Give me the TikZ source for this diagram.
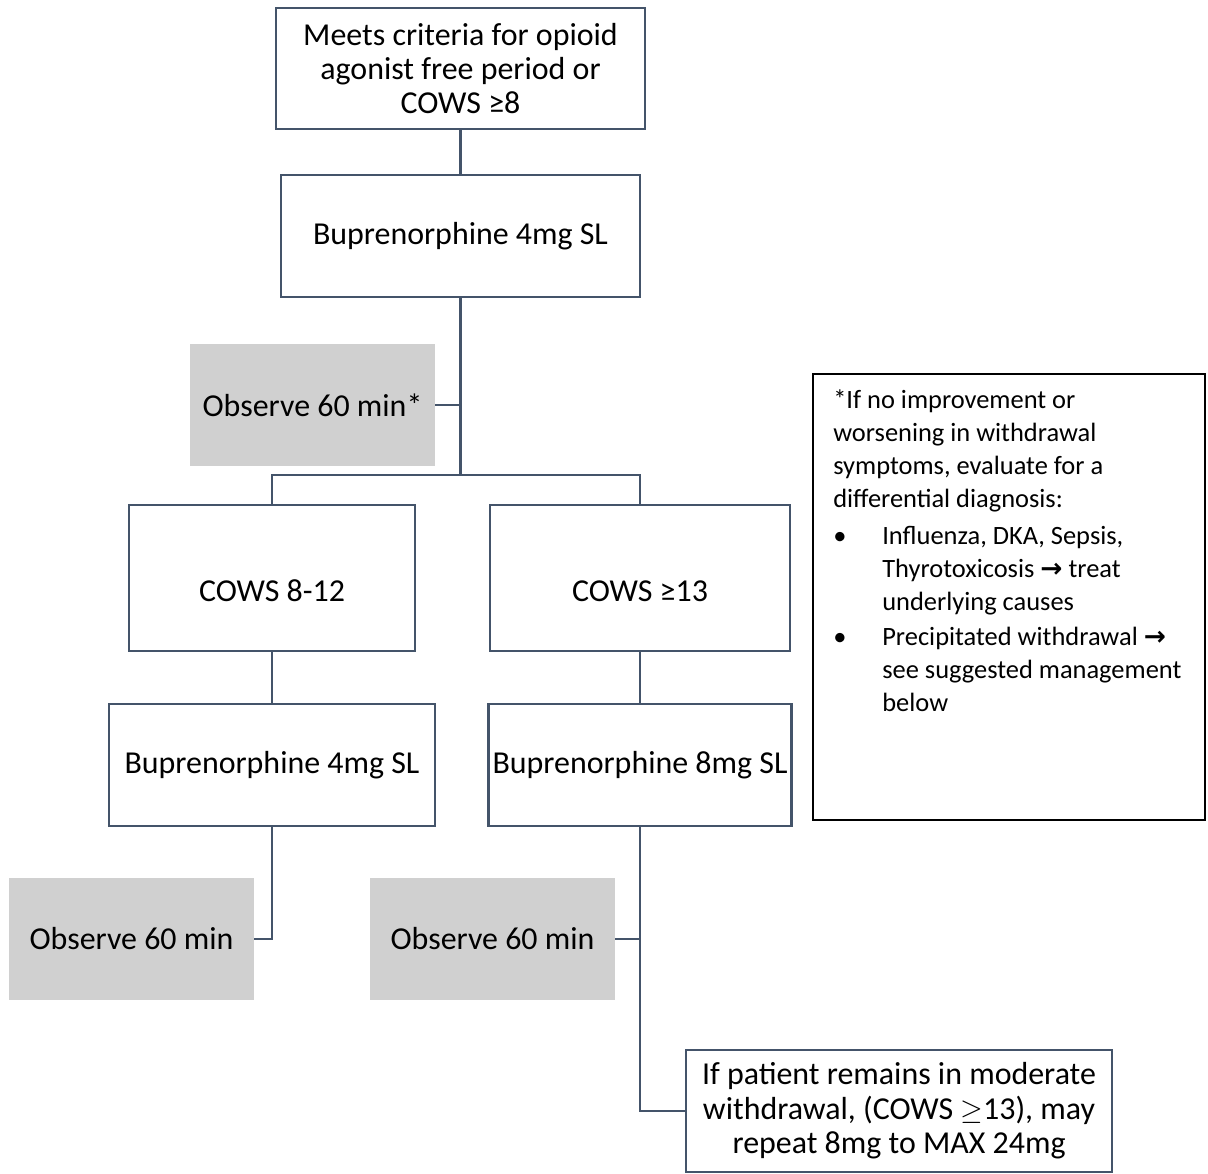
\documentclass[tikz,border=0pt]{standalone}
\usepackage{fontspec}
\setmainfont{Carlito}
\newfontfamily\symfont{DejaVu Sans}
\usepackage{xcolor}
\usetikzlibrary{positioning,calc}
\definecolor{linkcol}{HTML}{44546A}
\definecolor{obsgray}{HTML}{D0D0D0}
\newcommand{\geqsym}{≥}
\newcommand{\rarr}{{\symfont\bfseries →}}

\begin{document}
\begin{tikzpicture}[x=0.025cm,y=-0.025cm,
  box/.style={draw=linkcol,line width=1.6pt,align=center,inner sep=0pt,minimum height=3.05cm,font=\fontsize{22.7}{24.5}\selectfont},
  cowsbox/.style={box,minimum height=3.65cm,text height=1.15cm,text depth=0pt},
  obs/.style={fill=obsgray,minimum width=6.125cm,minimum height=3.05cm,inner sep=0pt,font=\fontsize{22.7}{24.5}\selectfont},
  link/.style={draw=linkcol,line width=1.6pt}]
\useasboundingbox (0,0) rectangle (1208,1174);
\node[box,minimum width=9.225cm,minimum height=3.025cm] (crit) at (460.5,68.5) {Meets criteria for opioid\\agonist free period or\\COWS \geqsym8};
\node[box,minimum width=8.975cm] (bup1) at (460.5,236) {Buprenorphine 4mg SL};
\node[obs] (obs1) at (312.5,405) {Observe 60 min*};
\coordinate (split) at (460.5,475);
\node[cowsbox,minimum width=7.15cm] (cowslo) at (272,578) {COWS 8-12};
\node[cowsbox,minimum width=7.5cm] (cowshi) at (640,578) {COWS \geqsym13};
\node[box,minimum width=8.15cm] (bup4) at (272,765) {Buprenorphine 4mg SL};
\node[box,minimum width=7.575cm] (bup8) at (640,765) {Buprenorphine 8mg SL};
\node[obs] (obs2) at (131.5,939) {Observe 60 min};
\node[obs] (obs3) at (492.5,939) {Observe 60 min};
\node[box,minimum width=10.65cm] (repeat) at (899,1111) {If patient remains in moderate\\withdrawal, (COWS $\geq$13), may\\repeat 8mg to MAX 24mg};
\node[draw=black,line width=1.2pt,minimum width=9.8cm,minimum height=11.15cm,inner sep=0pt] (note) at (1009,597) {};
\node[anchor=north west,align=left,inner sep=0pt,font=\fontsize{18.8}{23.5}\selectfont] (notetext) at (833,389) {*If no improvement or\\
worsening in withdrawal\\
symptoms, evaluate for a\\
differential diagnosis:\\[3pt]
\makebox[1.225cm][l]{\textbullet}Influenza, DKA, Sepsis,\\
\hspace*{1.225cm}Thyrotoxicosis \rarr{} treat\\
\hspace*{1.225cm}underlying causes\\[1.5pt]
\makebox[1.225cm][l]{\textbullet}Precipitated withdrawal \rarr\\
\hspace*{1.225cm}see suggested management\\
\hspace*{1.225cm}below};
\draw[link] (crit) -- (bup1);
\draw[link] (bup1) -- (split);
\draw[link] (obs1) -- (obs1 -| split);
\draw[link] (cowslo) |- (split) -| (cowshi);
\draw[link] (cowslo) -- (bup4);
\draw[link] (cowshi) -- (bup8);
\draw[link] (bup4) |- (obs2);
\draw[link] (bup8) |- (repeat);
\draw[link] (obs3) -- (obs3 -| bup8);
\end{tikzpicture}
\end{document}
